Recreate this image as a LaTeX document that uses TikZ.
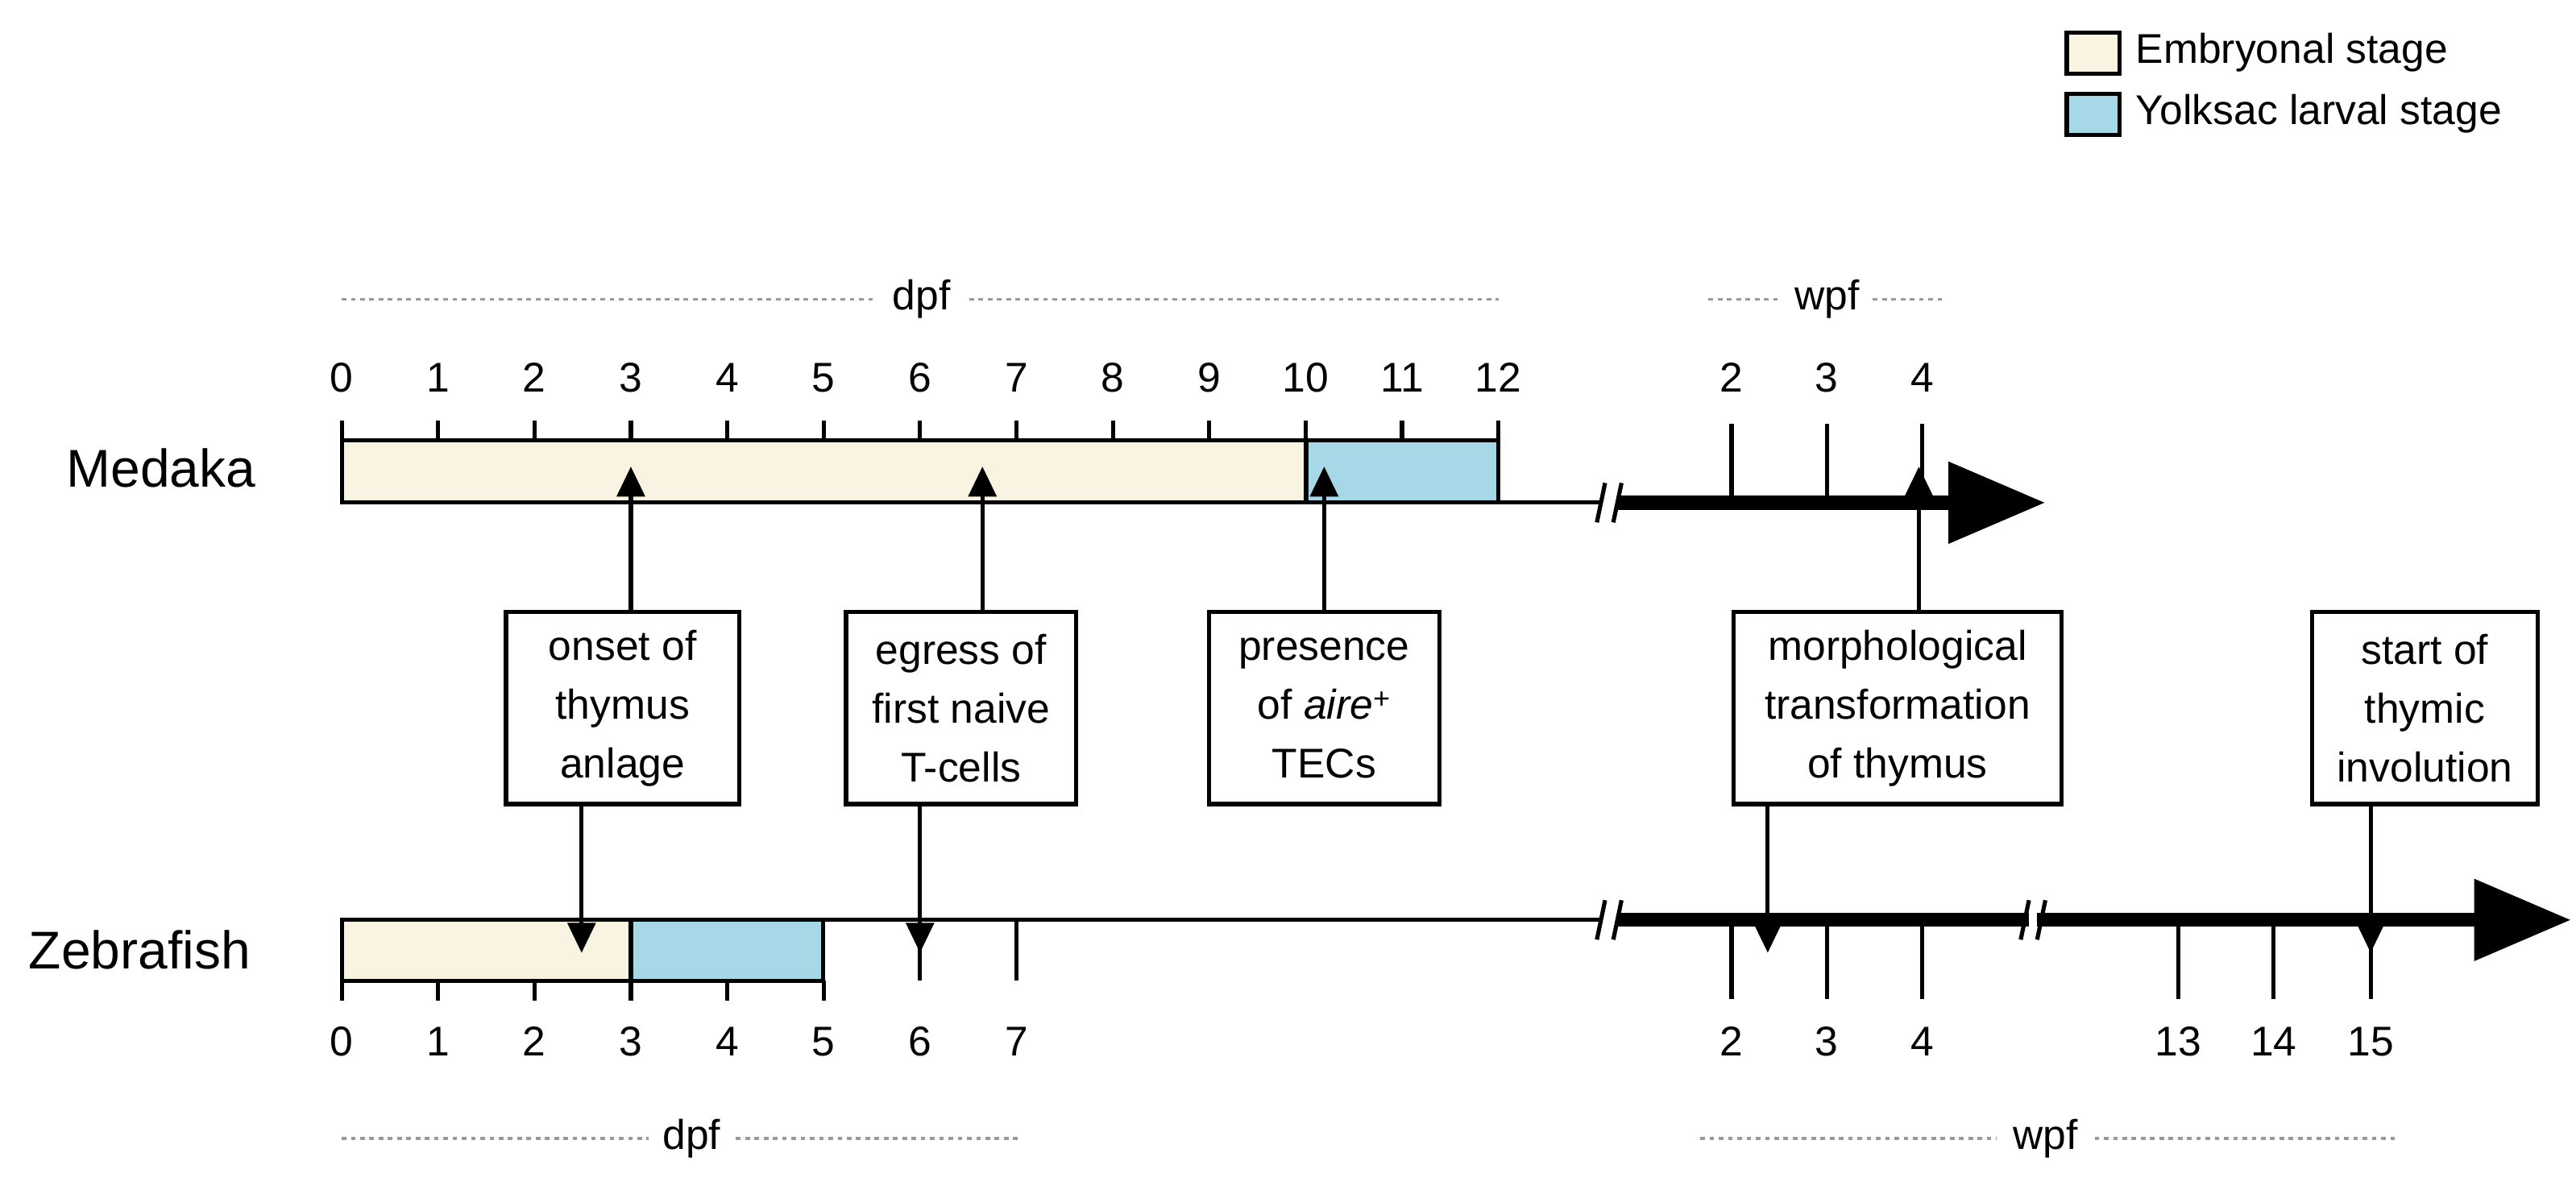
\documentclass[tikz,border=0pt]{standalone}
\usepackage{fontspec}
\setmainfont{Liberation Sans}
\usetikzlibrary{arrows.meta}
\definecolor{cream}{HTML}{F8F4E1}
\definecolor{lblue}{HTML}{A6D8E8}
\begin{document}
\begin{tikzpicture}[x=0.05cm,y=-0.05cm,
  thin/.style={line width=3.6pt},
  thick/.style={line width=12pt},
  txt/.style={font=\fontsize{36}{44}\selectfont,inner sep=0pt},
  box/.style={draw,line width=3.6pt,fill=white,align=center,font=\fontsize{36}{51}\selectfont,inner sep=0pt,minimum height=5.85cm},
  dots/.style={gray!80,line width=2.2pt,dash pattern=on 4pt off 4pt},
  up/.style={thin,-{Triangle[length=26pt,width=24pt]}},
  big/.style={thick,-{Triangle[length=84pt,width=68pt]}}]
\useasboundingbox (0,0) rectangle (1568,724);
% legend
\draw[thin,fill=cream] (1258,20) rectangle (1290,45);
\draw[thin,fill=lblue] (1258,57) rectangle (1290,82);
\node[txt,anchor=west] (l1) at (1300,32) {Embryonal stage};
\node[txt,anchor=west] (l2) at (1300,69) {Yolksac larval stage};
% Medaka
\node[font=\fontsize{46}{50}\selectfont] (med) at (98,285) {Medaka};
\draw[dots] (208,182) -- (533,182); \draw[dots] (590,182) -- (912,182);
\node[txt] (dpf1) at (561,182) {dpf};
\draw[dots] (1040,182) -- (1083,182); \draw[dots] (1140,182) -- (1182,182);
\node[txt] (wpf1) at (1112,182) {wpf};
\draw[thin,fill=cream] (208,268) rectangle (795,306);
\draw[thin,fill=lblue] (795,268) rectangle (912,306);
\foreach \k in {0,...,12}{
  \draw[thin] ({208+58.67*\k},256) -- ({208+58.67*\k},268);
  \node[txt] at ({208+58.67*\k},230) {\k};}
\draw[thin] (912,306) -- (975,306);
\draw[big] (985,306) -- (1245,306);
\draw[thin] (972,318) -- (977,294); \draw[thin] (982,318) -- (987,294);
\foreach \x/\l in {1054/2,1112/3,1170/4}{
  \draw[thin] (\x,258) -- (\x,306);
  \node[txt] at (\x,230) {\l};}
% Zebrafish
\node[font=\fontsize{46}{50}\selectfont] (zeb) at (85,578) {Zebrafish};
\draw[thin,fill=cream] (208,560) rectangle (384,597);
\draw[thin,fill=lblue] (384,560) rectangle (501,597);
\foreach \k in {0,...,5}{
  \draw[thin] ({208+58.67*\k},597) -- ({208+58.67*\k},609);
  \node[txt] at ({208+58.67*\k},634) {\k};}
\draw[thin] (501,560) -- (975,560);
\foreach \k in {6,7}{
  \draw[thin] ({208+58.67*\k},560) -- ({208+58.67*\k},597);
  \node[txt] at ({208+58.67*\k},634) {\k};}
\draw[thick] (985,560) -- (1235,560);
\draw[big] (1240,560) -- (1565,560);
\draw[thin] (972,572) -- (977,548); \draw[thin] (982,572) -- (987,548);
\draw[thin] (1230,572) -- (1235,548); \draw[thin] (1240,572) -- (1245,548);
\foreach \x/\l in {1054/2,1112/3,1170/4,1326/13,1384/14,1443/15}{
  \draw[thin] (\x,560) -- (\x,608);
  \node[txt] at (\x,634) {\l};}
\draw[dots] (208,693) -- (395,693); \draw[dots] (448,693) -- (620,693);
\node[txt] (dpf2) at (421,693) {dpf};
\draw[dots] (1035,693) -- (1215,693); \draw[dots] (1275,693) -- (1460,693);
\node[txt] (wpf2) at (1245,693) {wpf};
% boxes
\node[box,minimum width=7.1cm] (b1) at (379,431) {onset of\\thymus\\anlage};
\node[box,minimum width=7.0cm] (b2) at (585,431) {egress of\\first naive\\T-cells};
\node[box,minimum width=7.0cm] (b3) at (806,431) {presence\\of \textit{aire}\textsuperscript{+}\\TECs};
\node[box,minimum width=10cm] (b4) at (1155,431) {morphological\\transformation\\of thymus};
\node[box,minimum width=6.85cm] (b5) at (1476,431) {start of\\thymic\\involution};
% medaka markers
\coordinate (m1) at (384,284); \coordinate (m2) at (598,284);
\coordinate (m3) at (806,284); \coordinate (m4) at (1168,284);
\draw[up] (b1.north -| m1) -- (m1);
\draw[up] (b2.north -| m2) -- (m2);
\draw[up] (b3.north) -- (m3);
\draw[up] (b4.north -| m4) -- (m4);
% zebrafish markers
\coordinate (z1) at (354,580); \coordinate (z2) at (560,580);
\coordinate (z4) at (1076,580); \coordinate (z5) at (1443,580);
\draw[up] (b1.south -| z1) -- (z1);
\draw[up] (b2.south -| z2) -- (z2);
\draw[up] (b4.south -| z4) -- (z4);
\draw[up] (b5.south -| z5) -- (z5);
\end{tikzpicture}
\end{document}
